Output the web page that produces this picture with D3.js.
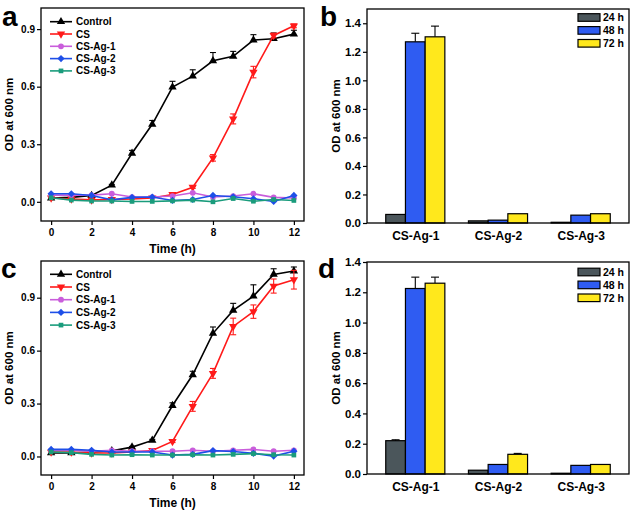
<!DOCTYPE html>
<html><head><meta charset="utf-8">
<script src="https://cdn.jsdelivr.net/npm/d3@7"></script>
<style>
body{margin:0;background:#fff}
svg{display:block}
text{font-family:"Liberation Sans",Arial,sans-serif;font-weight:bold;fill:#000}
</style>
</head><body>
<svg id="chart" width="634" height="513"></svg>
<script>
// ---------- data ----------
const times = [0,1,2,3,4,5,6,7,8,9,10,11,12];
const seriesNames = ["Control","CS","CS-Ag-1","CS-Ag-2","CS-Ag-3"];
const seriesColors = ["#000000","#ff1a1a","#c95ddb","#1e4fe8","#1a9c7c"];

// panel a
const aControl    = [0.020,0.023,0.033,0.087,0.253,0.404,0.598,0.655,0.735,0.758,0.843,0.850,0.874];
const aControlErr = [0,0,0,0.004,0.015,0.020,0.030,0.033,0.043,0.026,0.028,0.030,0.020];
const aCS         = [0.020,0.015,0.010,0.012,0.015,0.020,0.038,0.076,0.229,0.432,0.676,0.867,0.917];
const aCSErr      = [0,0,0,0,0,0,0.004,0.006,0.017,0.026,0.030,0.012,0.010];
const aAg1        = [0.035,0.035,0.035,0.042,0.025,0.025,0.030,0.047,0.025,0.030,0.042,0.023,0.020];
const aAg2        = [0.042,0.042,0.033,0.010,0.023,0.025,0.007,0.012,0.033,0.026,0.016,0.002,0.033];
const aAg3        = [0.021,0.009,0.004,0.004,0.002,0.002,0.005,0.009,0.000,0.017,0.003,0.012,0.007];

// panel c
const cControl    = [0.020,0.020,0.025,0.032,0.053,0.091,0.289,0.463,0.698,0.828,0.909,1.032,1.051];
const cControlErr = [0,0,0,0,0.004,0.006,0.015,0.020,0.036,0.040,0.064,0.032,0.023];
const cCS         = [0.025,0.025,0.020,0.020,0.025,0.034,0.085,0.284,0.471,0.737,0.821,0.966,1.002];
const cCSErr      = [0,0,0,0,0,0,0.006,0.028,0.028,0.047,0.038,0.040,0.053];
const cAg1        = [0.035,0.035,0.030,0.035,0.030,0.030,0.030,0.035,0.030,0.035,0.040,0.030,0.035];
const cAg2        = [0.040,0.040,0.035,0.025,0.025,0.025,0.008,0.012,0.033,0.028,0.018,0.002,0.030];
const cAg3        = [0.025,0.022,0.012,0.008,0.010,0.008,0.008,0.010,0.008,0.012,0.016,0.010,0.008];

// panels b and d
const barGroups = ["CS-Ag-1","CS-Ag-2","CS-Ag-3"];
const barTimes  = ["24 h","48 h","72 h"];
const barColors = ["#4b565b","#2f5cf2","#ffe81c"];
const b24 = [0.060,0.015,0.005], b24Err = [0,0,0];
const b48 = [1.270,0.020,0.055], b48Err = [0.060,0,0];
const b72 = [1.305,0.065,0.065], b72Err = [0.075,0,0];
const d24 = [0.220,0.025,0.005], d24Err = [0.006,0,0];
const d48 = [1.225,0.063,0.057], d48Err = [0.075,0,0];
const d72 = [1.260,0.130,0.063], d72Err = [0.040,0.006,0];

const lineTicksX = [0,2,4,6,8,10,12];
const lineTicksY = [0,0.3,0.6,0.9];
const barTicksY  = [0,0.2,0.4,0.6,0.8,1.0,1.2,1.4];

// ---------- drawing ----------
const svg = d3.select("#chart");
const downTriangle = {draw(ctx,size){ const s=Math.sqrt(size/(Math.sqrt(3)/4)); const h=s*Math.sqrt(3)/2;
  ctx.moveTo(0,h*2/3); ctx.lineTo(s/2,-h/3); ctx.lineTo(-s/2,-h/3); ctx.closePath(); }};
const wideDiamond = {draw(ctx,size){ const r=Math.sqrt(size/2); ctx.moveTo(0,-r); ctx.lineTo(r,0); ctx.lineTo(0,r); ctx.lineTo(-r,0); ctx.closePath(); }};
const symbolTypes = [d3.symbolTriangle, downTriangle, d3.symbolCircle, wideDiamond, d3.symbolSquare];
const symbolSizes = [30,30,26,26,22];

function frame(g, x0, y0, x1, y1){
  g.append("rect").attr("x",x0).attr("y",y0).attr("width",x1-x0).attr("height",y1-y0)
    .attr("fill","none").attr("stroke","#000").attr("stroke-width",1.3);
}

function styleAxis(ax, fs){
  ax.select(".domain").remove();
  ax.selectAll(".tick line").attr("stroke","#000").attr("stroke-width",1.2);
  ax.selectAll(".tick text").style("font-size",fs+"px").style("font-weight","bold")
    .style("font-family","'Liberation Sans',Arial,sans-serif");
}

function linePanel(cfg){
  const g = svg.append("g");
  const x = d3.scaleLinear().domain([-0.5,12.5]).range([cfg.x0,cfg.x1]);
  const y = d3.scaleLinear().domain(cfg.yDomain).range([cfg.y1,cfg.y0]);
  const series = cfg.series;
  const line = d3.line().x((d,i)=>x(times[i])).y(d=>y(d));
  series.forEach((s,k)=>{
    const eg = g.append("g").attr("stroke",seriesColors[k]).attr("stroke-width",1.1);
    s.err.forEach((e,i)=>{
      if(!e) return;
      const xi=x(times[i]), yt=y(s.v[i]+e), yb = s.sym ? y(s.v[i]-e) : y(s.v[i]);
      eg.append("line").attr("x1",xi).attr("x2",xi).attr("y1",yt).attr("y2",yb);
      eg.append("line").attr("x1",xi-3).attr("x2",xi+3).attr("y1",yt).attr("y2",yt);
      if(s.sym) eg.append("line").attr("x1",xi-3).attr("x2",xi+3).attr("y1",yb).attr("y2",yb);
    });
    g.append("path").datum(s.v).attr("d",line).attr("fill","none")
      .attr("stroke",seriesColors[k]).attr("stroke-width",1.6);
    g.selectAll(null).data(s.v).enter().append("path")
      .attr("transform",(d,i)=>`translate(${x(times[i])},${y(d)})`)
      .attr("d",d3.symbol().type(symbolTypes[k]).size(symbolSizes[k]))
      .attr("fill",seriesColors[k]);
  });
  frame(g,cfg.x0,cfg.y0,cfg.x1,cfg.y1);
  const ax = g.append("g").attr("transform",`translate(0,${cfg.y1})`)
    .call(d3.axisBottom(x).tickValues(lineTicksX).tickSize(4).tickPadding(4).tickFormat(d3.format("d")));
  styleAxis(ax,10);
  const ay = g.append("g").attr("transform",`translate(${cfg.x0},0)`)
    .call(d3.axisLeft(y).tickValues(lineTicksY).tickSize(4).tickPadding(2).tickFormat(d3.format(".1f")));
  styleAxis(ay,10);
  g.append("text").attr("x",(cfg.x0+cfg.x1)/2).attr("y",cfg.y1+32).attr("text-anchor","middle")
    .style("font-size","12px").text("Time (h)");
  g.append("text").attr("transform",`translate(${cfg.x0-32},${(cfg.y0+cfg.y1)/2}) rotate(-90)`)
    .attr("text-anchor","middle").attr("dy","0.35em").style("font-size","11.5px").text("OD at 600 nm");
  const lg = g.append("g").attr("transform",`translate(${cfg.x0+9},${cfg.y0+cfg.legTop})`);
  seriesNames.forEach((n,k)=>{
    const yy = k*cfg.legStep;
    lg.append("line").attr("x1",0).attr("x2",22).attr("y1",yy).attr("y2",yy)
      .attr("stroke",seriesColors[k]).attr("stroke-width",1.6);
    lg.append("path").attr("transform",`translate(11,${yy})`)
      .attr("d",d3.symbol().type(symbolTypes[k]).size(symbolSizes[k])).attr("fill",seriesColors[k]);
    lg.append("text").attr("x",26).attr("y",yy).attr("dy","0.36em").style("font-size","10px").text(n);
  });
  g.append("text").attr("x",cfg.labX).attr("y",cfg.labY).style("font-size","28px").text(cfg.label);
}

function barPanel(cfg){
  const g = svg.append("g");
  const x = d3.scalePoint().domain(barGroups).range([cfg.x0,cfg.x1]).padding(0.584);
  const y = d3.scaleLinear().domain(cfg.yDomain).range([cfg.y1,cfg.y0]);
  const bw = 19.7;
  cfg.sets.forEach((s,k)=>{
    barGroups.forEach((grp,i)=>{
      const cx = x(grp) + (k-1)*bw;
      const v = s.v[i], e = s.err[i];
      if(e){
        g.append("line").attr("x1",cx).attr("x2",cx).attr("y1",y(v)).attr("y2",y(v+e))
          .attr("stroke","#000").attr("stroke-width",1.1);
        g.append("line").attr("x1",cx-4).attr("x2",cx+4).attr("y1",y(v+e)).attr("y2",y(v+e))
          .attr("stroke","#000").attr("stroke-width",1.1);
      }
      g.append("rect").attr("x",cx-bw/2).attr("y",y(v)).attr("width",bw).attr("height",y(0)-y(v))
        .attr("fill",barColors[k]).attr("stroke","#000").attr("stroke-width",1.2);
    });
  });
  frame(g,cfg.x0,cfg.y0,cfg.x1,cfg.y1);
  const ax = g.append("g").attr("transform",`translate(0,${cfg.y1})`)
    .call(d3.axisBottom(x).tickSize(0).tickPadding(8));
  styleAxis(ax,12);
  const ay = g.append("g").attr("transform",`translate(${cfg.x0},0)`)
    .call(d3.axisLeft(y).tickValues(barTicksY).tickSize(4).tickPadding(2).tickFormat(d3.format(".1f")));
  styleAxis(ay,11.5);
  g.append("text").attr("transform",`translate(${cfg.x0-31},${(cfg.y0+cfg.y1)/2}) rotate(-90)`)
    .attr("text-anchor","middle").attr("dy","0.35em").style("font-size","11.5px").text("OD at 600 nm");
  const lg = g.append("g").attr("transform",`translate(${cfg.x1-51},${cfg.y0+cfg.legTop})`);
  barTimes.forEach((t,k)=>{
    const yy = k*12.9;
    lg.append("rect").attr("x",0).attr("y",yy-3.8).attr("width",22).attr("height",7.6)
      .attr("fill",barColors[k]).attr("stroke","#000").attr("stroke-width",1.2);
    lg.append("text").attr("x",25).attr("y",yy).attr("dy","0.36em").style("font-size","10.5px").text(t);
  });
  g.append("text").attr("x",cfg.labX).attr("y",cfg.labY).style("font-size","28px").text(cfg.label);
}

linePanel({x0:41,y0:8,x1:304,y1:221,yDomain:[-0.1,1.01],legTop:13.7,legStep:12.3,label:"a",labX:2,labY:26,
  series:[{v:aControl,err:aControlErr,sym:false},{v:aCS,err:aCSErr,sym:true},
          {v:aAg1,err:times.map(()=>0)},{v:aAg2,err:times.map(()=>0)},{v:aAg3,err:times.map(()=>0)}]});
linePanel({x0:41,y0:261,x1:304,y1:475,yDomain:[-0.105,1.108],legTop:13.3,legStep:12.7,label:"c",labX:1,labY:278,
  series:[{v:cControl,err:cControlErr,sym:false},{v:cCS,err:cCSErr,sym:true},
          {v:cAg1,err:times.map(()=>0)},{v:cAg2,err:times.map(()=>0)},{v:cAg3,err:times.map(()=>0)}]});
barPanel({x0:367,y0:9,x1:629,y1:223,yDomain:[0,1.5],legTop:8.5,label:"b",labX:320,labY:26,
  sets:[{v:b24,err:b24Err},{v:b48,err:b48Err},{v:b72,err:b72Err}]});
barPanel({x0:367,y0:262,x1:629,y1:474,yDomain:[0,1.4],legTop:10,label:"d",labX:318,labY:278,
  sets:[{v:d24,err:d24Err},{v:d48,err:d48Err},{v:d72,err:d72Err}]});
</script>
</body></html>
